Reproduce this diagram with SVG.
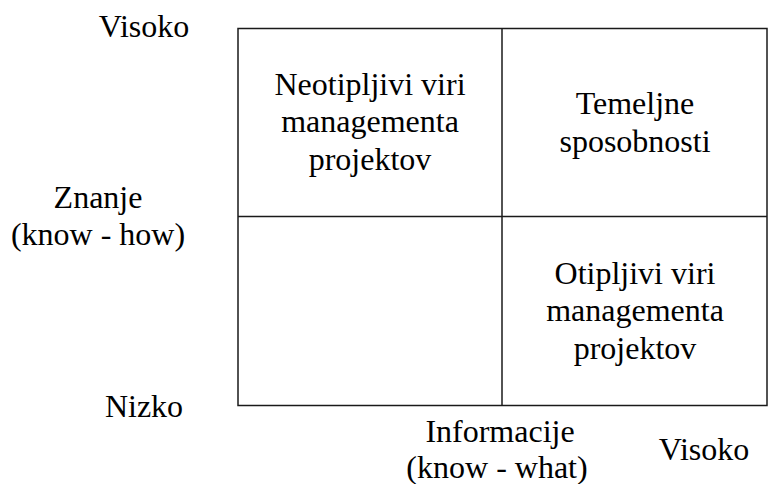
<svg xmlns="http://www.w3.org/2000/svg" width="777" height="484" viewBox="0 0 777 484">
  <style>
    text { font-family: "Liberation Serif", serif; font-size: 32px; fill: #000; text-anchor: middle; }
    .grid { fill: none; stroke: #1a1a1a; stroke-width: 1.5; }
  </style>
  <rect width="777" height="484" fill="#fff"/>

  <!-- 2x2 matrix frame and dividers -->
  <g id="connectors">
    <rect class="grid" x="238" y="28.5" width="529" height="377"/>
    <line class="grid" x1="502" y1="28.5" x2="502" y2="405.5"/>
    <line class="grid" x1="238" y1="216.5" x2="767" y2="216.5"/>
  </g>

  <!-- quadrants -->
  <g id="q-top-left">
    <text font-family="Liberation Serif" x="370" y="94.5">Neotipljivi viri</text>
    <text font-family="Liberation Serif" x="370" y="132">managementa</text>
    <text font-family="Liberation Serif" x="370" y="169.5">projektov</text>
  </g>
  <g id="q-top-right">
    <text font-family="Liberation Serif" x="635" y="113.5">Temeljne</text>
    <text font-family="Liberation Serif" x="635" y="151.5">sposobnosti</text>
  </g>
  <g id="q-bottom-right">
    <text font-family="Liberation Serif" x="635" y="284">Otipljivi viri</text>
    <text font-family="Liberation Serif" x="635" y="321">managementa</text>
    <text font-family="Liberation Serif" x="635" y="358.5">projektov</text>
  </g>

  <!-- vertical axis labels -->
  <g id="axis-y">
    <text font-family="Liberation Serif" x="144" y="37">Visoko</text>
    <text font-family="Liberation Serif" x="98" y="208">Znanje</text>
    <text font-family="Liberation Serif" x="98" y="245">(know - how)</text>
    <text font-family="Liberation Serif" x="144" y="417">Nizko</text>
  </g>

  <!-- horizontal axis labels -->
  <g id="axis-x">
    <text font-family="Liberation Serif" x="500" y="442">Informacije</text>
    <text font-family="Liberation Serif" x="497" y="478">(know - what)</text>
    <text font-family="Liberation Serif" x="704" y="460">Visoko</text>
  </g>
</svg>
